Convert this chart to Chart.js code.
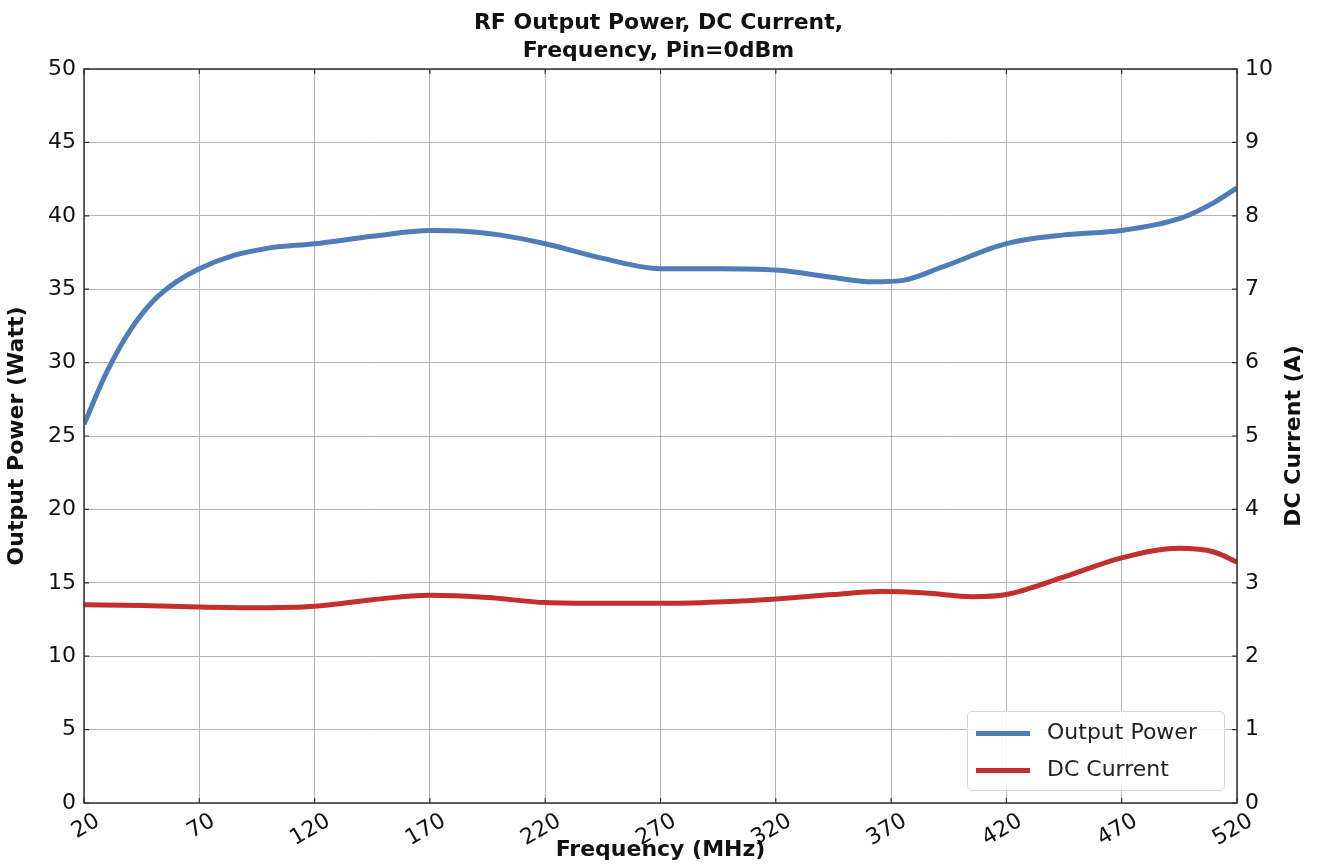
<!DOCTYPE html>
<html>
<head>
<meta charset="utf-8">
<script src="https://cdn.jsdelivr.net/npm/chart.js@4/dist/chart.umd.min.js"></script>
<style>
  html, body { margin: 0; padding: 0; background: #fff; }
  #wrap { position: relative; width: 1317px; height: 865px; }
  #legend {
    position: absolute; left: 967px; top: 711px; width: 256px; height: 78px;
    border: 1px solid #d6d6d6; border-radius: 5px; background: rgba(255,255,255,0.85);
    font-family: "DejaVu Sans", sans-serif; font-size: 22px; color: #222;
  }
  #legend div { position: absolute; left: 8px; height: 30px; line-height: 30px; }
  #legend span.sw { display: inline-block; width: 54px; height: 5px; vertical-align: middle; margin-right: 17px; }
</style>
</head>
<body>
<div id="wrap">
  <canvas id="c" width="1317" height="865"></canvas>
  <div id="legend">
    <div style="top:5px"><span class="sw" style="background:#4f7db8"></span>Output Power</div>
    <div style="top:42px"><span class="sw" style="background:#c3302b"></span>DC Current</div>
  </div>
</div>
<script>
// data
var powerFreq = [20, 30, 40, 50, 60, 70, 85, 100, 120, 145, 170, 185, 200, 220, 245, 270, 295, 320, 345, 362, 375, 392, 420, 445, 470, 495, 510, 520];
var powerWatt = [25.8, 29.4, 32.2, 34.2, 35.5, 36.4, 37.3, 37.8, 38.1, 38.6, 39.0, 38.95, 38.7, 38.1, 37.1, 36.4, 36.4, 36.3, 35.8, 35.5, 35.6, 36.5, 38.1, 38.7, 39.0, 39.8, 40.9, 41.9];

var currentFreq = [20, 45, 70, 95, 120, 145, 170, 195, 220, 245, 270, 295, 320, 345, 365, 385, 405, 420, 445, 470, 495, 510, 520];
var currentAmp = [2.70, 2.69, 2.67, 2.66, 2.68, 2.77, 2.83, 2.80, 2.73, 2.72, 2.72, 2.74, 2.78, 2.84, 2.88, 2.86, 2.81, 2.84, 3.08, 3.34, 3.47, 3.42, 3.28];

var titleLines = ['RF Output Power, DC Current,', 'Frequency, Pin=0dBm'];
var rightTitle = 'DC Current (A)';

function pts(xs, ys) {
  return xs.map(function (x, i) { return { x: x, y: ys[i] }; });
}

var font = '"DejaVu Sans", sans-serif';

// frame, inward tick marks and the right axis title (reads bottom to top)
var frame = {
  id: 'frame',
  afterDraw: function (chart) {
    var ctx = chart.ctx, a = chart.chartArea;
    ctx.save();
    ctx.strokeStyle = '#333';
    ctx.lineWidth = 1.5;
    ctx.strokeRect(a.left, a.top, a.right - a.left, a.bottom - a.top);
    ctx.lineWidth = 1.2;
    ctx.beginPath();
    chart.scales.x.ticks.forEach(function (t) {
      var px = chart.scales.x.getPixelForValue(t.value);
      ctx.moveTo(px, a.bottom); ctx.lineTo(px, a.bottom - 5);
      ctx.moveTo(px, a.top); ctx.lineTo(px, a.top + 5);
    });
    chart.scales.y.ticks.forEach(function (t) {
      var py = chart.scales.y.getPixelForValue(t.value);
      ctx.moveTo(a.left, py); ctx.lineTo(a.left + 5, py);
    });
    chart.scales.y1.ticks.forEach(function (t) {
      var py = chart.scales.y1.getPixelForValue(t.value);
      ctx.moveTo(a.right, py); ctx.lineTo(a.right - 5, py);
    });
    ctx.stroke();

    ctx.translate(1294, (a.top + a.bottom) / 2);
    ctx.rotate(-Math.PI / 2);
    ctx.fillStyle = '#111';
    ctx.font = 'bold 22px ' + font;
    ctx.textAlign = 'center';
    ctx.textBaseline = 'middle';
    ctx.fillText(rightTitle, 0, 0);
    ctx.restore();
  }
};

new Chart(document.getElementById('c'), {
  type: 'line',
  data: {
    datasets: [{
      label: 'Output Power',
      data: pts(powerFreq, powerWatt),
      yAxisID: 'y',
      borderColor: '#4f7db8',
      borderWidth: 5,
      pointRadius: 0,
      tension: 0.4,
      cubicInterpolationMode: 'monotone'
    }, {
      label: 'DC Current',
      data: pts(currentFreq, currentAmp),
      yAxisID: 'y1',
      borderColor: '#c3302b',
      borderWidth: 5,
      pointRadius: 0,
      tension: 0.4,
      cubicInterpolationMode: 'monotone'
    }]
  },
  options: {
    responsive: false,
    animation: false,
    layout: { padding: 0 },
    plugins: {
      legend: { display: false },
      tooltip: { enabled: false },
      title: {
        display: true,
        text: titleLines,
        color: '#111',
        font: { family: font, size: 22, weight: 'bold', lineHeight: 1.25 },
        padding: { top: 10, bottom: 4 }
      }
    },
    scales: {
      x: {
        type: 'linear',
        min: 20, max: 520,
        afterFit: function (s) { s.height = 62; },
        ticks: {
          stepSize: 50,
          maxRotation: 30, minRotation: 30,
          labelOffset: 14,
          padding: 5,
          color: '#111',
          font: { family: font, size: 22 }
        },
        grid: { color: '#b4b4b4', lineWidth: 1, drawTicks: false },
        border: { display: false },
        title: {
          display: true,
          text: 'Frequency (MHz)',
          color: '#111',
          font: { family: font, size: 22, weight: 'bold' },
          padding: { top: 0, bottom: 2 }
        }
      },
      y: {
        position: 'left',
        min: 0, max: 50,
        afterFit: function (s) { s.width = 84; },
        ticks: {
          stepSize: 5,
          padding: 8,
          color: '#111',
          font: { family: font, size: 22 }
        },
        grid: { color: '#b4b4b4', lineWidth: 1, drawTicks: false },
        border: { display: false },
        title: {
          display: true,
          text: 'Output Power (Watt)',
          color: '#111',
          font: { family: font, size: 22, weight: 'bold' },
          padding: { top: 4, bottom: 0 }
        }
      },
      y1: {
        position: 'right',
        min: 0, max: 10,
        afterFit: function (s) { s.width = 80; },
        ticks: {
          stepSize: 1,
          padding: 8,
          color: '#111',
          font: { family: font, size: 22 }
        },
        grid: { display: false, drawTicks: false },
        border: { display: false }
      }
    }
  },
  plugins: [frame]
});
</script>
</body>
</html>
